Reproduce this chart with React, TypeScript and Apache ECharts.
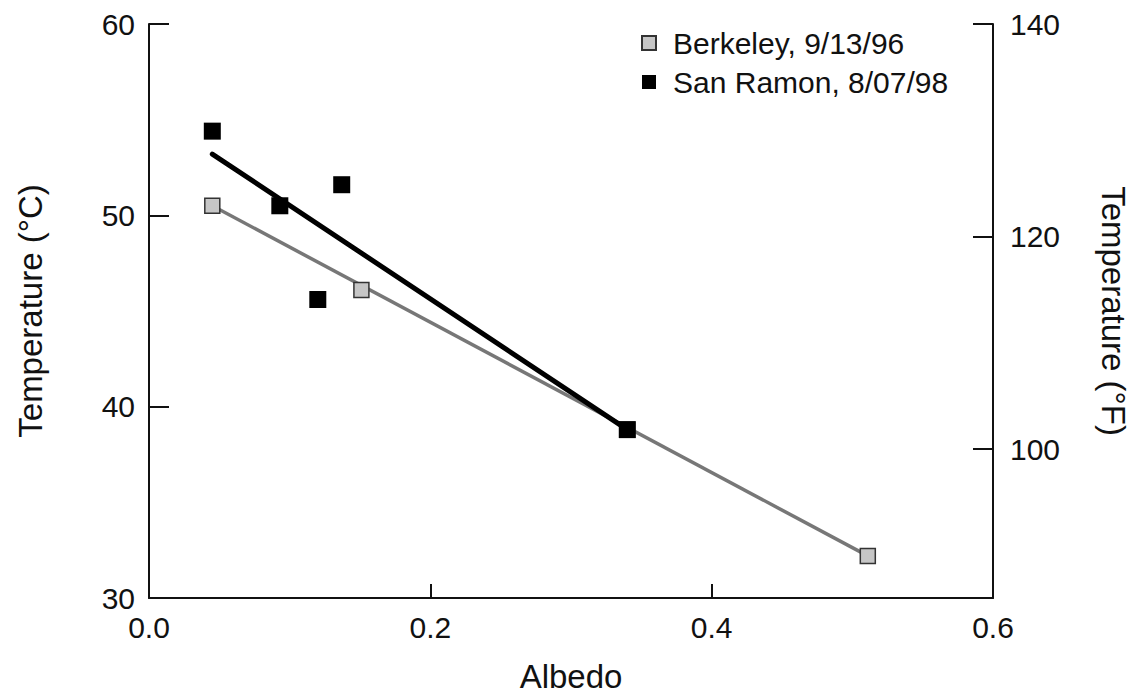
import React, { useEffect, useRef } from "react";
import * as echarts from "echarts";

const xTicks = [0, 0.2, 0.4, 0.6];
const yTicksC = [30, 40, 50, 60];
const yTicksF = [100, 120, 140];

const berkeleyName = "Berkeley, 9/13/96";
const sanRamonName = "San Ramon, 8/07/98";

const berkeleyAlbedo = [0.045, 0.151, 0.34, 0.511];
const berkeleyTemp = [50.5, 46.1, 38.8, 32.2];

const sanRamonAlbedo = [0.045, 0.093, 0.12, 0.137, 0.34];
const sanRamonTemp = [54.4, 50.5, 45.6, 51.6, 38.8];

const berkeleyFitAlbedo = [0.045, 0.511];
const berkeleyFitTemp = [50.5, 32.2];

const sanRamonFitAlbedo = [0.045, 0.34];
const sanRamonFitTemp = [53.2, 38.8];

const zip = (xs: number[], ys: number[]) => xs.map((x, i) => [x, ys[i]]);

const FONT = "'Liberation Sans', Arial, Helvetica, sans-serif";

export default function App() {
  const ref = useRef<HTMLDivElement>(null);
  useEffect(() => {
    if (!ref.current) return;
    const chart = echarts.init(ref.current, undefined, { renderer: "svg" });
    const axisLine = { show: true, lineStyle: { color: "#111", width: 2 } };
    const tickLabel = { fontSize: 30, color: "#111", fontFamily: FONT };
    const titleStyle = { fontSize: 33, color: "#111", fontFamily: FONT };
    chart.setOption({
      animation: false,
      backgroundColor: "#fff",
      textStyle: { fontFamily: FONT },
      grid: { left: 149, right: 143, top: 24, bottom: 95, containLabel: false },
      legend: {
        data: [berkeleyName, sanRamonName],
        orient: "vertical",
        left: 641,
        top: 28,
        padding: 0,
        itemGap: 9,
        itemWidth: 14,
        itemHeight: 14,
        icon: "rect",
        textStyle: { fontSize: 30, color: "#111", fontFamily: FONT, padding: [0, 0, 0, 12] },
      },
      xAxis: {
        type: "value",
        min: xTicks[0],
        max: xTicks[xTicks.length - 1],
        interval: 0.2,
        name: "Albedo",
        nameLocation: "middle",
        nameGap: 62,
        nameTextStyle: titleStyle,
        axisLine,
        axisTick: { show: true, inside: true, length: 14, lineStyle: { color: "#111", width: 2 } },
        axisLabel: {
          ...tickLabel,
          margin: 14,
          formatter: (v: number) => v.toFixed(1),
        },
        splitLine: { show: false },
      },
      yAxis: [
        {
          type: "value",
          position: "left",
          min: yTicksC[0],
          max: yTicksC[yTicksC.length - 1],
          interval: 10,
          name: "Temperature (°C)",
          nameLocation: "middle",
          nameRotate: 90,
          nameGap: 102,
          nameTextStyle: titleStyle,
          axisLine,
          axisTick: { show: true, inside: true, length: 20, lineStyle: { color: "#111", width: 2 } },
          axisLabel: { ...tickLabel, margin: 14 },
          splitLine: { show: false },
        },
        {
          type: "value",
          position: "right",
          min: 86,
          max: 140,
          name: "Temperature (°F)",
          nameLocation: "middle",
          nameRotate: -90,
          nameGap: 104,
          nameTextStyle: titleStyle,
          axisLine,
          axisTick: {
            show: true,
            inside: true,
            length: 20,
            customValues: yTicksF,
            lineStyle: { color: "#111", width: 2 },
          },
          axisLabel: { ...tickLabel, margin: 17, customValues: yTicksF },
          splitLine: { show: false },
        },
      ],
      series: [
        {
          name: "Berkeley fit",
          type: "line",
          data: zip(berkeleyFitAlbedo, berkeleyFitTemp),
          symbol: "none",
          lineStyle: { color: "#777", width: 3.5 },
          z: 1,
          silent: true,
        },
        {
          name: "San Ramon fit",
          type: "line",
          data: zip(sanRamonFitAlbedo, sanRamonFitTemp),
          symbol: "none",
          lineStyle: { color: "#000", width: 5, cap: "round" },
          z: 2,
          silent: true,
        },
        {
          name: berkeleyName,
          type: "scatter",
          data: zip(berkeleyAlbedo, berkeleyTemp),
          symbol: "rect",
          symbolSize: 15,
          itemStyle: { color: "#c6c6c6", borderColor: "#333", borderWidth: 1.5, opacity: 1 },
          z: 3,
        },
        {
          name: sanRamonName,
          type: "scatter",
          data: zip(sanRamonAlbedo, sanRamonTemp),
          symbol: "rect",
          symbolSize: 17,
          itemStyle: { color: "#000", opacity: 1 },
          z: 4,
        },
      ],
    });
    return () => chart.dispose();
  }, []);
  return (
    <div
      ref={ref}
      style={{ position: "fixed", left: 0, top: 0, width: 1138, height: 698, background: "#fff" }}
    />
  );
}
